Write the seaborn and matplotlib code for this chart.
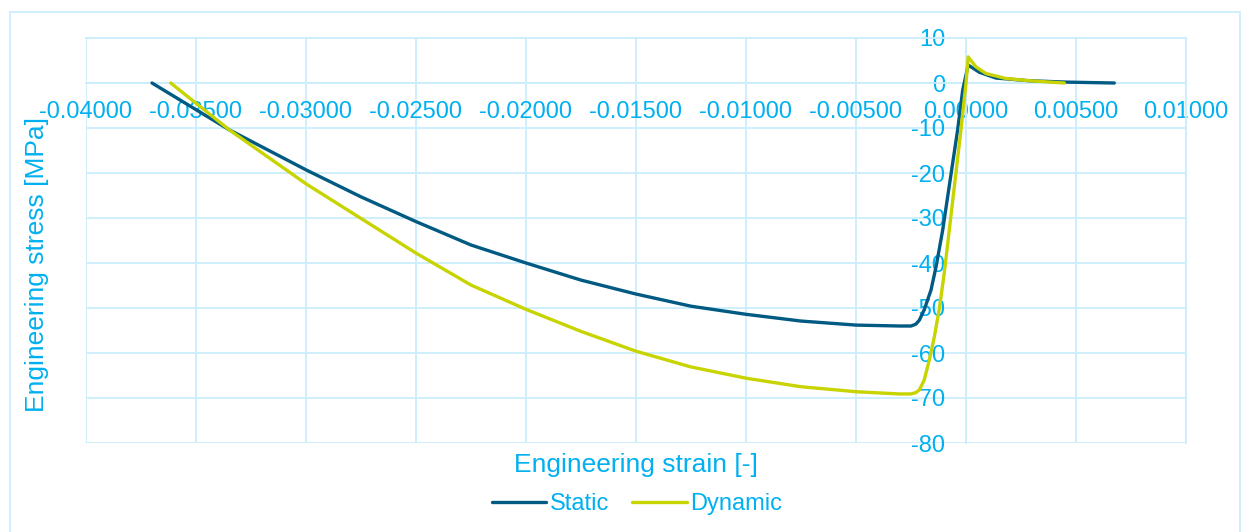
import seaborn as sns
import matplotlib.pyplot as plt
import matplotlib.patches as patches
import pandas as pd
import numpy as np

# data
static_strain = [-0.0370, -0.03349, -0.0300, -0.0275, -0.0250, -0.0225, -0.0200, -0.0175,
                 -0.0150, -0.0125, -0.0100, -0.0075, -0.0050, -0.00303, -0.0025, -0.00228,
                 -0.00212, -0.0019, -0.00159, -0.00136, -0.00106, -0.00038, -0.00015, 0.0001,
                 0.0006, 0.00136, 0.00288, 0.00455, 0.00674]
static_stress = [0.0, -10.4, -19.3, -25.3, -30.8, -36.0, -40.0, -43.8,
                 -46.9, -49.6, -51.4, -52.9, -53.8, -54.0, -54.0, -53.6,
                 -52.7, -50.4, -46.0, -40.8, -32.7, -10.4, -1.6, 4.0,
                 2.4, 1.1, 0.5, 0.2, 0.0]

dynamic_strain = [-0.03615, -0.03349, -0.0300, -0.0275, -0.0250, -0.0225, -0.0200, -0.0175,
                  -0.0150, -0.0125, -0.0100, -0.0075, -0.0050, -0.00303, -0.0025, -0.00228,
                  -0.00212, -0.0019, -0.00167, -0.00144, -0.00121, -0.00099, -0.00076, -0.00023,
                  0.0, 0.0001, 0.00045, 0.00091, 0.00182, 0.00288, 0.00447]
dynamic_stress = [0.0, -10.4, -22.4, -30.1, -37.8, -44.9, -50.3, -55.2,
                  -59.6, -63.1, -65.6, -67.5, -68.6, -69.1, -69.1, -68.8,
                  -68.2, -66.0, -61.6, -56.4, -50.1, -42.3, -32.7, -10.4,
                  0.0, 5.8, 3.6, 2.1, 1.0, 0.5, 0.0]

x_ticks = [-0.04, -0.035, -0.03, -0.025, -0.02, -0.015, -0.01, -0.005, 0.0, 0.005, 0.01]
y_ticks = [10, 0, -10, -20, -30, -40, -50, -60, -70, -80]

df = pd.concat([
    pd.DataFrame({"strain": static_strain, "stress": static_stress, "test": "Static"}),
    pd.DataFrame({"strain": dynamic_strain, "stress": dynamic_stress, "test": "Dynamic"}),
], ignore_index=True)

text_c = "#00B0F0"
grid_c = "#CCEEFC"
W, H = 1245, 532

sns.set_style("white")
plt.rcParams["font.family"] = ["Liberation Sans", "DejaVu Sans"]

fig = plt.figure(figsize=(W / 100, H / 100), dpi=100)
ax = fig.add_axes([86 / W, 1 - 443 / H, 1100 / W, 405 / H])

sns.lineplot(data=df, x="strain", y="stress", hue="test", sort=False,
             palette={"Static": "#005A82", "Dynamic": "#C8D400"},
             linewidth=2.4, ax=ax, legend=False, zorder=3)

ax.set_xlim(-0.04, 0.01)
ax.set_ylim(-80, 10)
ax.set_xticks(x_ticks)
ax.set_yticks(y_ticks)
ax.set_xticklabels([f"{v:.5f}" for v in x_ticks])
ax.set_yticklabels([str(v) for v in y_ticks])
ax.grid(True, color=grid_c, linewidth=1.3, zorder=0)
ax.set_axisbelow(True)

for s in ax.spines.values():
    s.set_color(grid_c)
    s.set_linewidth(1.3)
ax.spines["left"].set_position(("data", 0))
ax.spines["bottom"].set_position(("data", 0))
ax.tick_params(axis="x", length=0, pad=13, labelsize=17, labelcolor=text_c)
ax.tick_params(axis="y", length=0, pad=15, labelsize=17, labelcolor=text_c)
ax.set_xlabel("")
ax.set_ylabel("")

fig.text(636 / W, 1 - 465 / H, "Engineering strain [-]", color=text_c, fontsize=19,
         ha="center", va="center")
fig.text(37 / W, 1 - 264 / H, "Engineering stress [MPa]", color=text_c, fontsize=19,
         ha="center", va="center", rotation=90)

handles = [plt.Line2D([], [], color="#005A82", lw=2.4),
           plt.Line2D([], [], color="#C8D400", lw=2.4)]
leg = fig.legend(handles, ["Static", "Dynamic"], loc="center",
                 bbox_to_anchor=(637 / W, 1 - 504 / H), ncol=2, frameon=False,
                 fontsize=17, handlelength=2.3, handletextpad=0.15, columnspacing=1.0)
for t in leg.get_texts():
    t.set_color(text_c)

fig.patches.append(patches.Rectangle((10 / W, -0.05), 1230 / W, 1 - 12 / H + 0.05,
                                     transform=fig.transFigure, fill=False,
                                     edgecolor=grid_c, linewidth=1.3))

fig.savefig("out.png", dpi=100)
